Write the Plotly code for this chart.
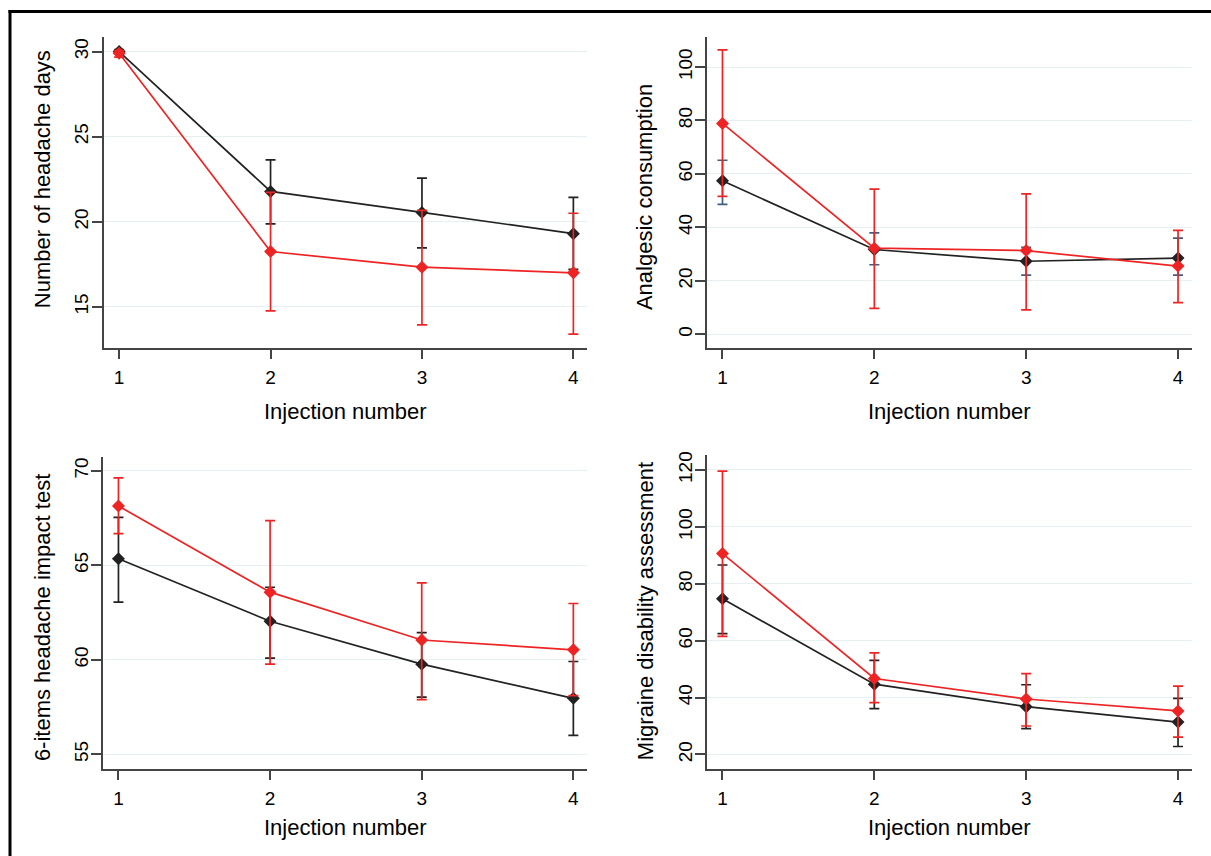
import plotly.graph_objects as go

W, H = 1211, 856

injections = [1, 2, 3, 4]
x_ticks = [1, 2, 3, 4]

# Panel 1: Number of headache days
p1_black_mean = [30.0, 21.78, 20.55, 19.3]
p1_black_up = [30.12, 23.63, 22.56, 21.43]
p1_black_lo = [29.88, 19.88, 18.46, 17.2]
p1_red_mean = [29.9, 18.25, 17.33, 17.0]
p1_red_up = [30.05, 21.72, 20.67, 20.5]
p1_red_lo = [29.67, 14.76, 13.94, 13.4]

# Panel 2: Analgesic consumption
p2_black_mean = [57.4, 31.7, 27.3, 28.5]
p2_black_up = [65.1, 37.9, 32.5, 36.0]
p2_black_lo = [48.6, 26.0, 22.1, 22.1]
p2_red_mean = [78.9, 32.2, 31.3, 25.5]
p2_red_up = [106.4, 54.3, 52.5, 38.9]
p2_red_lo = [51.6, 9.7, 9.1, 11.8]

# Panel 3: 6-items headache impact test
p3_black_mean = [65.35, 62.04, 59.77, 57.96]
p3_black_up = [67.54, 63.84, 61.44, 59.91]
p3_black_lo = [63.05, 60.09, 58.03, 56.0]
p3_red_mean = [68.14, 63.58, 61.05, 60.53]
p3_red_up = [69.63, 67.37, 64.07, 62.98]
p3_red_lo = [66.68, 59.77, 57.89, 58.1]

# Panel 4: Migraine disability assessment
p4_black_mean = [74.7, 44.7, 36.8, 31.4]
p4_black_up = [86.6, 53.1, 44.5, 39.7]
p4_black_lo = [62.5, 36.1, 29.1, 22.8]
p4_red_mean = [90.6, 46.7, 39.5, 35.3]
p4_red_up = [119.6, 55.7, 48.4, 44.0]
p4_red_lo = [61.5, 38.2, 30.0, 26.1]

y_titles = ["Number of headache days", "Analgesic consumption",
            "6-items headache impact test", "Migraine disability assessment"]
x_title = "Injection number"
y_tickvals = [[15, 20, 25, 30], [0, 20, 40, 60, 80, 100],
              [55, 60, 65, 70], [20, 40, 60, 80, 100, 120]]
y_ranges = [[12.56, 30.88], [-5.3, 111.4], [54.2, 70.74], [14.75, 125.2]]
x_range = [0.9, 4.09]

panels = [
    (p1_black_mean, p1_black_up, p1_black_lo, p1_red_mean, p1_red_up, p1_red_lo),
    (p2_black_mean, p2_black_up, p2_black_lo, p2_red_mean, p2_red_up, p2_red_lo),
    (p3_black_mean, p3_black_up, p3_black_lo, p3_red_mean, p3_red_up, p3_red_lo),
    (p4_black_mean, p4_black_up, p4_black_lo, p4_red_mean, p4_red_up, p4_red_lo),
]

# pixel boxes: (left, right, top, bottom)
boxes = [(104, 587, 32.7, 346), (707.3, 1191.7, 32.7, 346),
         (103.3, 587, 455, 769), (707.3, 1191.7, 453.3, 769)]
ytitle_pos = [(42, 176), (644, 194), (42, 617), (645, 610)]
xtitle_y = [409, 409, 827, 827]

RED = "#ee2424"
BLACK = "#222222"
ERR_BLACK = ["#222222", "#3f5f7f", "#222222", "#222222"]
FONT = "Liberation Sans, Arial, Helvetica, sans-serif"

fig = go.Figure()
layout = dict(width=W, height=H, autosize=False,
              margin=dict(l=0, r=0, t=0, b=0),
              paper_bgcolor="white", plot_bgcolor="white",
              showlegend=False, font=dict(family=FONT, color="black"))

annotations = []
for i, (bm, bu, bl, rm, ru, rl) in enumerate(panels):
    k = "" if i == 0 else str(i + 1)
    xa, ya = "x" + k, "y" + k
    for mean, up, lo, color, ecolor, name in [
        (bm, bu, bl, BLACK, ERR_BLACK[i], "Group 1"),
        (rm, ru, rl, RED, RED, "Group 2"),
    ]:
        fig.add_trace(go.Scatter(
            x=injections, y=mean, mode="lines+markers", name=name,
            xaxis=xa, yaxis=ya,
            line=dict(color=color, width=1.7),
            marker=dict(symbol="diamond", size=10, color=color),
            error_y=dict(type="data", symmetric=False,
                         array=[u - m for u, m in zip(up, mean)],
                         arrayminus=[m - l for m, l in zip(mean, lo)],
                         color=ecolor, thickness=1.7, width=5),
        ))
    l, r, t, b = boxes[i]
    layout["xaxis" + k] = dict(
        domain=[l / W, r / W], anchor=ya, range=x_range,
        tickvals=x_ticks, ticks="outside", ticklen=9, tickwidth=1.5,
        tickcolor="#444", showline=True, linecolor="#444", linewidth=2,
        showgrid=False, zeroline=False, ticklabelstandoff=2,
        tickfont=dict(size=19, family=FONT, color="black"))
    layout["yaxis" + k] = dict(
        domain=[1 - b / H, 1 - t / H], anchor=xa, range=y_ranges[i],
        tickvals=y_tickvals[i], ticks="outside", ticklen=10, tickwidth=1.5,
        tickcolor="#444", showline=True, linecolor="#444", linewidth=2,
        showgrid=True, gridcolor="#e6f0f2", gridwidth=1, zeroline=False,
        tickangle=-90, ticklabelstandoff=-4,
        tickfont=dict(size=19, family=FONT, color="black"))
    tx, ty = ytitle_pos[i]
    annotations.append(dict(text=y_titles[i], x=tx / W, y=1 - ty / H,
                            xref="paper", yref="paper", showarrow=False,
                            textangle=-90, xanchor="center", yanchor="middle",
                            font=dict(size=22, family=FONT, color="black")))
    annotations.append(dict(text=x_title, x=(l + r) / 2 / W, y=1 - xtitle_y[i] / H,
                            xref="paper", yref="paper", showarrow=False,
                            xanchor="center", yanchor="middle",
                            font=dict(size=22, family=FONT, color="black")))

layout["annotations"] = annotations
layout["shapes"] = [
    dict(type="line", xref="paper", yref="paper", x0=8.5 / W, x1=1.0,
         y0=1 - 7.5 / H, y1=1 - 7.5 / H, line=dict(color="black", width=3)),
    dict(type="line", xref="paper", yref="paper", x0=10 / W, x1=10 / W,
         y0=0, y1=1 - 6 / H, line=dict(color="black", width=3)),
]
fig.update_layout(**layout)
fig.write_html("out.html", config={"displayModeBar": False},
               post_script="document.body.style.margin='0';"
                           "document.body.style.overflow='hidden';")
